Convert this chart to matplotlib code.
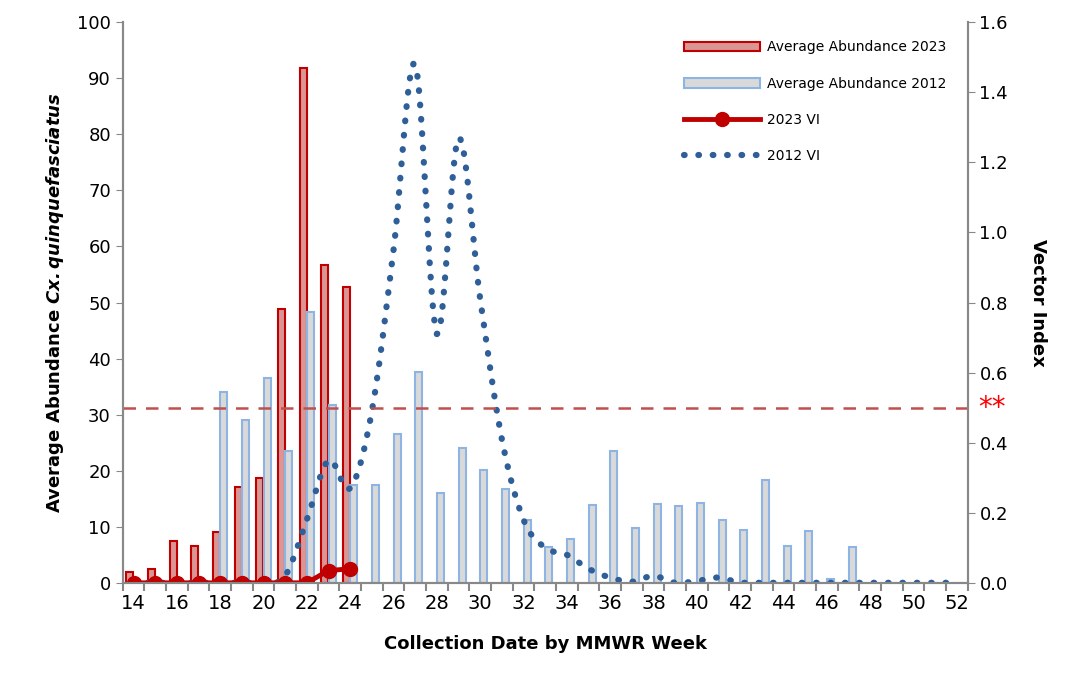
import numpy as np
import matplotlib
matplotlib.use('Agg')
from matplotlib import pyplot as plt

weeks = np.arange(14, 53)
weeks_2023 = np.arange(14, 25)
abund_2023 = [2.0, 2.5, 7.4, 6.6, 9.1, 17.1, 18.7, 48.9, 91.8, 56.7, 52.8]
abund_2012 = [0, 0, 0, 0, 34.0, 29.0, 36.5, 23.5, 48.3, 31.8, 17.5, 17.4, 26.5, 37.6,
              16.1, 24.0, 20.2, 16.7, 11.2, 6.3, 7.9, 13.8, 23.5, 9.8, 14.1, 13.7,
              14.2, 11.2, 9.5, 18.3, 6.5, 9.3, 0.6, 6.4, 0, 0, 0, 0, 0]
vi_2023 = [0, 0, 0, 0, 0, 0, 0, 0, 0, 0.035, 0.04]
vi_2012 = [0, 0, 0, 0, 0, 0, 0, 0.02, 0.18, 0.35, 0.27, 0.49, 0.95, 1.48, 0.71,
           1.27, 0.81, 0.41, 0.18, 0.10, 0.08, 0.04, 0.015, 0.003, 0.02, 0, 0.005,
           0.015, 0, 0, 0, 0, 0, 0, 0, 0, 0, 0, 0]
threshold = 0.5


def catmull(x, y, n=12):
    x = np.asarray(x, float); y = np.asarray(y, float)
    px = np.concatenate([[x[0]], x, [x[-1]]])
    py = np.concatenate([[y[0]], y, [y[-1]]])
    xs, ys = [], []
    for i in range(1, len(px) - 2):
        t = np.linspace(0, 1, n, endpoint=False)
        for p, out in ((px, xs), (py, ys)):
            p0, p1, p2, p3 = p[i - 1], p[i], p[i + 1], p[i + 2]
            out.extend(0.5 * (2 * p1 + (-p0 + p2) * t + (2 * p0 - 5 * p1 + 4 * p2 - p3) * t ** 2
                              + (-p0 + 3 * p1 - 3 * p2 + p3) * t ** 3))
    xs.append(x[-1]); ys.append(y[-1])
    return np.array(xs), np.array(ys)


fig = plt.figure(figsize=(10.86, 6.73), dpi=100)
ax = fig.add_axes([0.113, 0.134, 0.778, 0.833])
ax2 = ax.twinx()

pos = np.arange(len(weeks))
pos23 = np.arange(len(weeks_2023))
b1 = ax.bar(pos23 - 0.17, abund_2023, width=0.32, color='#D99694', edgecolor='#C00000', linewidth=1.5,
            label='Average Abundance 2023')
b2 = ax.bar(pos + 0.17, abund_2012, width=0.32, color='#D9D9D9', edgecolor='#8EB4E3', linewidth=1.5,
            label='Average Abundance 2012')

sx, sy = catmull(pos, vi_2012)
l2, = ax2.plot(sx, np.maximum(sy, 0), color='#2F5F98', linestyle=(0, (0.1, 2.2)), linewidth=4.5,
               dash_capstyle='round', label='2012 VI')
l1, = ax2.plot(pos23, vi_2023, color='#C00000', linewidth=3.5, marker='o', markersize=10, label='2023 VI')
ax2.axhline(threshold, color='#C0504D', linestyle=(0, (5, 4)), linewidth=1.8)
ax2.text(1.012, threshold, '**', color='red', fontsize=20, transform=ax2.get_yaxis_transform(),
         va='center', ha='left')

ax.set_xlim(-0.5, len(weeks) - 0.5)
ax.set_ylim(0, 100)
ax2.set_ylim(0, 1.6)
ax.set_yticks(np.arange(0, 101, 10))
ax2.set_yticks(np.arange(0, 1.61, 0.2))
ax2.set_yticklabels([f'{v:.1f}' for v in np.arange(0, 1.61, 0.2)])
ax.set_xticks(pos[::2])
ax.set_xticklabels([str(w) for w in weeks[::2]], fontsize=14)
ax.set_xticks(np.arange(-0.5, len(weeks), 1), minor=True)
ax.tick_params(axis='x', which='major', length=0, pad=8)
ax.tick_params(axis='x', which='minor', length=6, color='#888888', width=1.5)
ax.tick_params(axis='y', labelsize=13, length=5, color='#888888')
ax2.tick_params(axis='y', labelsize=13, length=5, color='#888888')

for a in (ax, ax2):
    a.spines['top'].set_visible(False)
    for s in ('left', 'right', 'bottom'):
        a.spines[s].set_color('#888888')
        a.spines[s].set_linewidth(1.5)

ax.set_ylabel('Average Abundance $\\mathbfit{Cx. quinquefasciatus}$', fontsize=13, fontweight='bold', labelpad=8)
ax2.set_ylabel('Vector Index', fontsize=13, fontweight='bold', rotation=270, labelpad=28)
ax.set_xlabel('Collection Date by MMWR Week', fontsize=13, fontweight='bold', labelpad=16)

ax2.legend(handles=[b1, b2, l1, l2], loc='upper right', bbox_to_anchor=(0.99, 0.99), frameon=False,
           fontsize=10, handlelength=5.5, handletextpad=0.5, labelspacing=1.6)

fig.savefig('out.png', dpi=100)
